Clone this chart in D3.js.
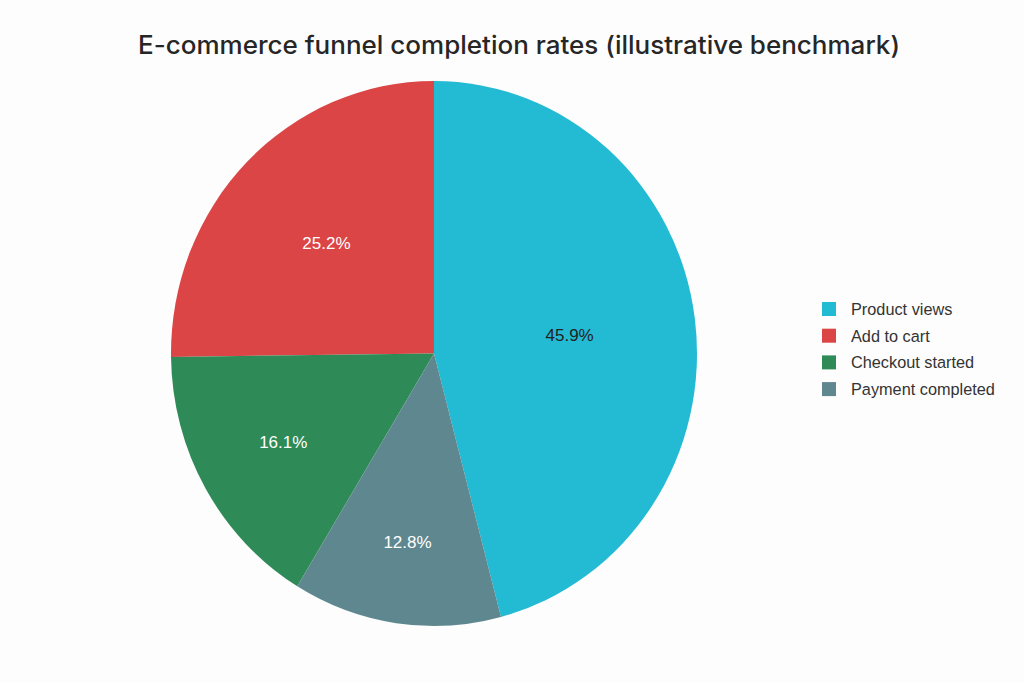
<!DOCTYPE html>
<html>
<head>
<meta charset="utf-8">
<script src="https://cdn.jsdelivr.net/npm/d3@7"></script>
<style>
  html, body { margin: 0; padding: 0; background: #fdfdfd; }
  svg { display: block; font-family: "Liberation Sans", Arial, Helvetica, sans-serif; }
</style>
</head>
<body>
<svg id="chart" width="1024" height="683"></svg>
<script>
const title = "E-commerce funnel completion rates (illustrative benchmark)";
const categories = ["Product views", "Add to cart", "Checkout started", "Payment completed"];
const values = [45.9, 25.2, 16.1, 12.8];
const colors = ["#23BAD4", "#DB4545", "#2E8B57", "#5F8790"];
const labelColors = ["#222222", "#ffffff", "#ffffff", "#ffffff"];
// label distance from centre as a fraction of radius (style, per slice)
const labelDist = [0.52, 0.575, 0.66, 0.70];

const svg = d3.select("#chart");
const W = 1024, H = 683;
const cx = 434, cy = 353.5, r = 263, yStretch = 272.5 / 263;

svg.append("rect").attr("width", W).attr("height", H).attr("fill", "#fdfdfd");

const t = svg.append("text")
  .attr("x", 519).attr("y", 54)
  .attr("text-anchor", "middle")
  .attr("font-family", "Inter, 'Liberation Sans', Arial, sans-serif")
  .attr("font-size", 25)
  .attr("font-weight", 500)
  .attr("fill", "#262626")
  .text(title);
// fit to the reference title width
const tl = t.node().getComputedTextLength();
if (tl > 0) t.attr("textLength", 762).attr("lengthAdjust", "spacingAndGlyphs");

const data = categories.map((c, i) => ({ cat: c, value: values[i], i }));
const total = d3.sum(values);
const start = (values[0] / total) * 2 * Math.PI;
const pie = d3.pie().sort(null).value(d => d.value)
  .startAngle(start).endAngle(start - 2 * Math.PI);
const arcs = pie(data);
const arc = d3.arc().innerRadius(0).outerRadius(r);

const g = svg.append("g").attr("transform", `translate(${cx},${cy}) scale(1,${yStretch})`);
g.selectAll("path").data(arcs).enter().append("path")
  .attr("d", arc)
  .attr("fill", d => colors[d.data.i]);

const lg = svg.append("g").attr("transform", `translate(${cx},${cy})`);
lg.selectAll("text").data(arcs).enter().append("text")
  .attr("x", d => {
    const a = (d.startAngle + d.endAngle) / 2;
    return Math.sin(a) * r * labelDist[d.data.i];
  })
  .attr("y", d => {
    const a = (d.startAngle + d.endAngle) / 2;
    return -Math.cos(a) * r * labelDist[d.data.i] * yStretch;
  })
  .attr("text-anchor", "middle")
  .attr("dominant-baseline", "central")
  .attr("font-size", 17)
  .attr("fill", d => labelColors[d.data.i])
  .text(d => d3.format(".1f")(d.value / total * 100) + "%");

const legend = svg.append("g").attr("transform", "translate(822,302)");
const row = legend.selectAll("g").data(data).enter().append("g")
  .attr("transform", (d, i) => `translate(0,${i * 26.7})`);
row.append("rect").attr("width", 14).attr("height", 14)
  .attr("fill", d => colors[d.i]);
row.append("text").attr("x", 29).attr("y", 7)
  .attr("dominant-baseline", "central")
  .attr("font-size", 16.3)
  .attr("fill", "#333333")
  .text(d => d.cat);
</script>
</body>
</html>
